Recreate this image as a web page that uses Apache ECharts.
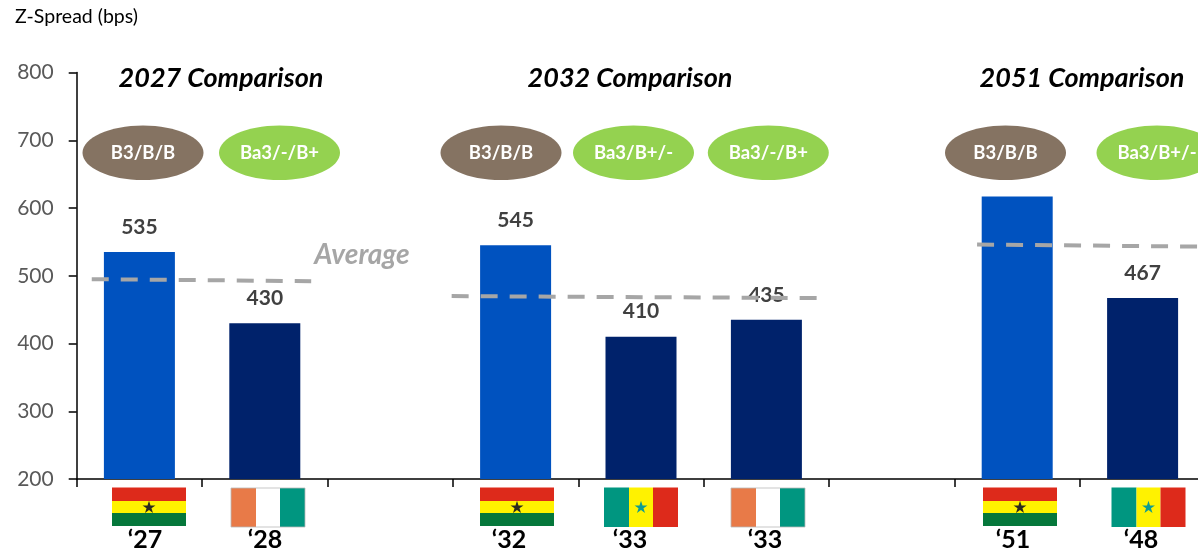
<!DOCTYPE html>
<html><head><meta charset="utf-8">
<style>html,body{margin:0;padding:0;background:#fff;overflow:hidden}#c{width:1198px;height:551px}</style>
<script src="https://cdn.jsdelivr.net/npm/echarts@6/dist/echarts.min.js"></script>
</head><body><div id="c"></div>
<script>
const categories = ['‘27','‘28','','‘32','‘33','‘33 ','','‘51','‘48'];
const spreads = [535,430,null,545,410,435,null,617,467];
const issuerType = ['ghana','peer','','ghana','peer','peer','','ghana','peer'];
const yTicks = [200,800];
const avg2027 = [[0.12,495],[1.87,492]];
const avg2032 = [[2.99,470],[5.92,467]];
const avg2051 = [[7.18,546],[9,543]];
const groupTitles = ['2027 Comparison','2032 Comparison','2051 Comparison'];
const ratings = ['B3/B/B','Ba3/-/B+','B3/B/B','Ba3/B+/-','Ba3/-/B+','B3/B/B','Ba3/B+/-'];

const FONT='Lato';
const BLUE='#0052BF', NAVY='#00226B', BROWN='#857362', GREEN='#94D250';
const g=[];
function text(t,x,y,o){g.push({type:'text',z:20,x,y,style:Object.assign({text:t,fontFamily:FONT,align:'center',verticalAlign:'middle'},o)});}
// axis title
text('Z-Spread (bps)',15,17,{align:'left',fontSize:19.5,fill:'#000'});
// group titles
[[221,78],[630,78],[1082,78]].forEach((p,i)=>text(groupTitles[i],p[0],p[1],{fontSize:27,fontWeight:'bold',fontStyle:'italic',fill:'#000'}));
text('Average',362,255,{fontSize:28,fontWeight:'bold',fontStyle:'italic',fill:'#A6A6A6'});
// rating ellipses
[143,279.5,501,633.5,768.3,1005.5,1157].forEach((cx,i)=>{
  const brown=ratings[i]==='B3/B/B';
  g.push({type:'ellipse',z:15,shape:{cx,cy:152.7,rx:60.5,ry:27.3},style:{fill:brown?BROWN:GREEN}});
  text(ratings[i],cx,153,{fontSize:18.5,fontWeight:'bold',fill:'#fff'});
});
function rect(x,y,w,h,fill,extra){g.push({type:'rect',z:15,shape:{x,y,width:w,height:h},style:Object.assign({fill},extra||{})});}
function star(cx,cy,fill){
  const pts=[];
  for(let i=0;i<10;i++){const r=i%2?2.6:6.8,a=-Math.PI/2+i*Math.PI/5;pts.push([cx+r*Math.cos(a),cy+r*Math.sin(a)]);}
  g.push({type:'polygon',z:16,shape:{points:pts},style:{fill}});
}
function ghana(x){const w=74;rect(x,487.5,w,13.5,'#DD2A1B');rect(x,501,w,12,'#FFF200');rect(x,513,w,13,'#05773B');star(x+37,507.5,'#2B2A1F');}
function ivory(x){const y=488,h=39;rect(x,y,25,h,'#E87A48');rect(x+25,y,24,h,'#FFFFFF');rect(x+49,y,25,h,'#009680');
  g.push({type:'rect',z:16,shape:{x:x,y:y,width:74,height:h},style:{fill:'none',stroke:'#B9B9B9',lineWidth:0.8}});}
function senegal(x){const y=487.5,h=39.5;rect(x,y,25,h,'#009680');rect(x+25,y,24,h,'#FFF200');rect(x+49,y,25,h,'#DD2A1B');star(x+37,507.5,'#0E9C92');}
ghana(112);ivory(231);ghana(480);senegal(604);ivory(731);ghana(983);senegal(1111.5);
// maturity labels
[145,265,509,630,765,1013,1141].forEach((x,i)=>text(categories.filter(c=>c)[i].trim(),x,540,{fontSize:25,fontWeight:'bold',fill:'#000'}));

function avgSeries(name,data){return {name,type:'line',xAxisIndex:1,yAxisIndex:0,data,z:6,symbol:'none',silent:true,
  lineStyle:{color:'#A6A6A6',width:4,type:[17,12]}};}

const chart=echarts.init(document.getElementById('c'),null,{renderer:'canvas'});
chart.setOption({
  animation:false,
  backgroundColor:'#fff',
  grid:{left:76.7,top:72.5,width:1128.6,height:406.5,containLabel:false,outerBoundsMode:'none'},
  xAxis:[
    {type:'category',data:categories,boundaryGap:true,
     axisLine:{lineStyle:{color:'#000',width:1.5}},
     axisTick:{show:true,length:8,alignWithLabel:false,lineStyle:{color:'#000',width:1.5}},
     axisLabel:{show:false}},
    {type:'value',min:0,max:9,show:false}
  ],
  yAxis:{type:'value',min:yTicks[0],max:yTicks[1],interval:100,
    axisLine:{show:true,lineStyle:{color:'#000',width:1.5}},
    axisTick:{show:true,length:8,lineStyle:{color:'#000',width:1.5}},
    splitLine:{show:false},
    axisLabel:{fontFamily:FONT,fontSize:21,color:'#595959',margin:23}},
  series:[
    {type:'bar',z:2,barWidth:71,silent:true,
     data:spreads.map((v,i)=>v==null?null:{value:v,itemStyle:{color:issuerType[i]==='ghana'?BLUE:NAVY}}),
     label:{show:true,position:'top',distance:14.5,fontFamily:FONT,fontSize:21,fontWeight:'bold',color:'#404040'}},
    avgSeries('Average 2027',avg2027),
    avgSeries('Average 2032',avg2032),
    avgSeries('Average 2051',avg2051)
  ],
  graphic:g
});
</script></body></html>
